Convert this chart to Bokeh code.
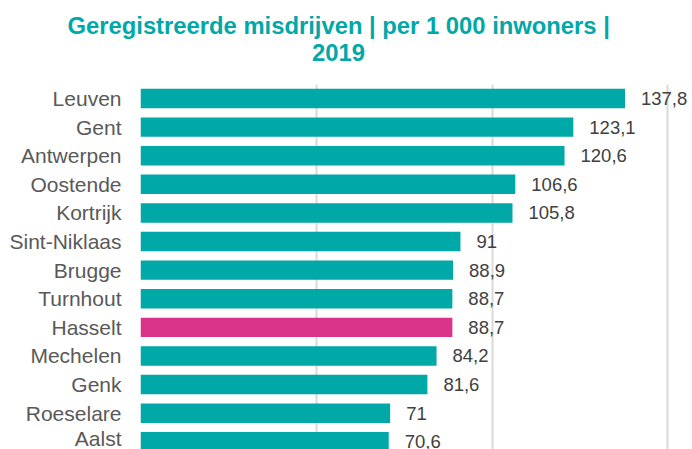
from bokeh.plotting import figure
from bokeh.models import ColumnDataSource, Range1d, FixedTicker, Title
from bokeh.embed import file_html
from bokeh.resources import INLINE
from bokeh.core.properties import value

cities = ["Leuven", "Gent", "Antwerpen", "Oostende", "Kortrijk", "Sint-Niklaas",
          "Brugge", "Turnhout", "Hasselt", "Mechelen", "Genk", "Roeselare", "Aalst"]
values = [137.8, 123.1, 120.6, 106.6, 105.8, 91, 88.9, 88.7, 88.7, 84.2, 81.6, 71, 70.6]
value_labels = ["137,8", "123,1", "120,6", "106,6", "105,8", "91", "88,9", "88,7",
                "88,7", "84,2", "81,6", "71", "70,6"]
highlight = "Hasselt"
title_lines = ["Geregistreerde misdrijven | per 1 000 inwoners |", "2019"]

TEAL = "#00A8A8"
PINK = "#D9348A"

n = len(cities)
ypos = [n - 1 - i for i in range(n)]
colors = [PINK if c == highlight else TEAL for c in cities]

src = ColumnDataSource(dict(y=ypos, v=values, lab=value_labels, c=colors, city=cities))

p = figure(width=692, height=449, output_backend="svg", toolbar_location=None,
           x_range=Range1d(0, 157.0), y_range=Range1d(-0.27, 12.49),
           min_border_left=140, min_border_right=0, min_border_top=84, min_border_bottom=0)
p.outline_line_color = None
p.background_fill_color = "white"
p.border_fill_color = "white"

p.hbar(y="y", right="v", left=0, height=0.68, fill_color="c", line_color=None, source=src)
p.text(x="v", y="y", text="lab", x_offset=16, text_baseline="middle", text_align="left",
       text_font=value("Liberation Sans"), text_font_size="18.5px", text_color="#404040",
       source=src)

p.xaxis.visible = False
p.xgrid.ticker = FixedTicker(ticks=[0, 50, 100, 150])
p.xgrid.grid_line_color = "#D9D9D9"
p.xgrid.grid_line_width = 2
p.ygrid.visible = False

p.yaxis.ticker = FixedTicker(ticks=ypos)
p.yaxis.major_label_overrides = {y: c for y, c in zip(ypos, cities)}
p.yaxis.axis_line_color = None
p.yaxis.major_tick_line_color = None
p.yaxis.minor_tick_line_color = None
p.yaxis.major_tick_out = 0
p.yaxis.major_label_standoff = 19
p.yaxis.major_label_text_font = "Liberation Sans"
p.yaxis.major_label_text_font_size = "21px"
p.yaxis.major_label_text_color = "#595959"

t2 = Title(text=title_lines[1], align="left", offset=171.5, standoff=48,
           text_font="Liberation Sans", text_font_style="bold",
           text_font_size="23.8px", text_color=TEAL)
t1 = Title(text=title_lines[0], align="left", offset=-73, standoff=-43,
           text_font="Liberation Sans", text_font_style="bold",
           text_font_size="23.8px", text_color=TEAL)
p.add_layout(t2, "above")
p.add_layout(t1, "above")

open("out.html", "w").write(file_html(p, INLINE))
